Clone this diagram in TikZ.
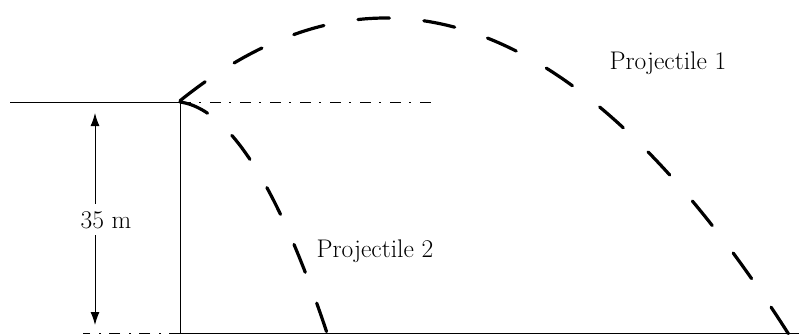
\documentclass[tikz,border=0pt]{standalone}
\usetikzlibrary{arrows.meta}
\begin{document}
\begin{tikzpicture}[x=1pt,y=-1pt,
  >={Latex[length=13pt,width=9pt]},
  thin line/.style={line width=1pt},
  traj/.style={line width=3.2pt,line cap=round,dash pattern=on 30pt off 33pt},
  trajlong/.style={traj,dash pattern=on 31.5pt off 34.6pt},
  guide/.style={line width=0.9pt,dash pattern=on 11pt off 8pt on 2pt off 9pt},
  lbl/.style={font=\fontsize{25.5}{30}\selectfont,inner sep=2pt,anchor=base}]
\useasboundingbox (0,0) rectangle (799,335);
\coordinate (L) at (10,102);
\coordinate (T) at (180,102);
\coordinate (B) at (180,333);
\coordinate (R) at (799,333);
\coordinate (G1) at (432,102);
\coordinate (G2) at (83,333);
\coordinate (A1) at (95,113);
\coordinate (A2) at (95,325);
\draw[thin line] (L) -- (T) -- (B) -- (R);
\draw[guide] (T) -- (G1);
\draw[guide] (B) -- (G2);
\draw[trajlong] plot[domain=180:789,samples=150,smooth] (\x,{18+19.5*((\x-386)/100)^2});
\draw[traj] plot[domain=180:327,samples=60,smooth] (\x,{102+0.139*(\x-180)+97.43*((\x-180)/100)^2});
\draw[thin line,<->] (A1) -- (A2);
\node[lbl,fill=white,inner xsep=1pt,inner ysep=7pt] (h) at (106,228) {35 m};
\node[lbl] (p1) at (668,69) {Projectile 1};
\node[lbl] (p2) at (375,257) {Projectile 2};
\end{tikzpicture}
\end{document}
